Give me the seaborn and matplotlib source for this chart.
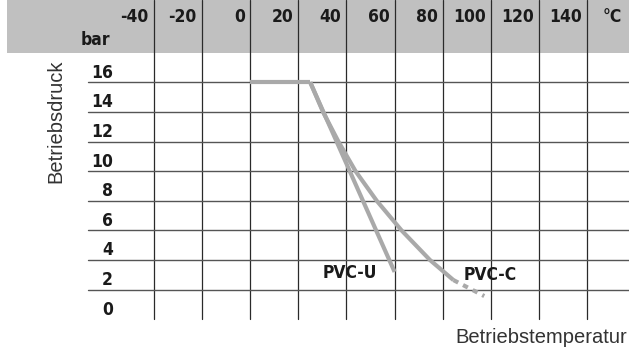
import numpy as np
import pandas as pd
import matplotlib
matplotlib.use("Agg")
import matplotlib.pyplot as plt
import seaborn as sns

# Daten
temp_ticks = [-40, -20, 0, 20, 40, 60, 80, 100, 120, 140]
druck_ticks = [0, 2, 4, 6, 8, 10, 12, 14, 16]

plateau_t = [0, 25]
plateau_p = [16, 16]

pvcu_t = [25, 60]
pvcu_p = [16, 3.2]

pvcc_t = [25, 30.3, 36.7, 43.8, 52.6, 62.9, 74.7, 84.4]
pvcc_p = [16, 14, 12, 10, 8, 6, 4, 2.65]

pvcc_ext_t = [84.4, 97.2]
pvcc_ext_p = [2.65, 1.57]

sns.set_theme(style="white")
plt.rcParams['font.family'] = ['DejaVu Sans']

# Pixel -> Daten Umrechnung (Tabelle-Layout)
def T(px):
    return (px - 250) / 2.41

def P(py):
    return (319.3 - py) / 14.81

fig = plt.figure(figsize=(6.29, 3.54), dpi=100)
ax = fig.add_axes([0, 0, 1, 1])

# Kopfzeile grau
ax.axhspan(P(53), P(0), xmin=7 / 629, xmax=1, color='#c0c0c0', lw=0, zorder=0)

# Gitter
for t in temp_ticks:
    ax.plot([t, t], [0, P(0)], color='#2a2a2a', lw=0.9, zorder=1)
for p in druck_ticks[1:]:
    ax.plot([T(88), T(629)], [p, p], color='#555555', lw=1.0, zorder=1)

# Kurven
grau = '#a9a9a9'
df_plateau = pd.DataFrame({'t': plateau_t, 'p': plateau_p})
df_u = pd.DataFrame({'t': pvcu_t, 'p': pvcu_p})
df_c = pd.DataFrame({'t': pvcc_t, 'p': pvcc_p})
df_ext = pd.DataFrame({'t': pvcc_ext_t, 'p': pvcc_ext_p})

kw = dict(x='t', y='p', color=grau, lw=3.0, sort=False, estimator=None, ax=ax, zorder=3)
sns.lineplot(data=df_plateau, solid_capstyle='butt', **kw)
sns.lineplot(data=df_u, solid_capstyle='butt', **kw)
sns.lineplot(data=df_c, solid_capstyle='butt', solid_joinstyle='round', **kw)
sns.lineplot(data=df_ext, linestyle=(0, (1.3, 1.3)), dash_capstyle='butt', **kw)
ax.set_xlim(T(0), T(629))
ax.set_ylim(P(354), P(0))
ax.axis('off')

# Beschriftungen
fs = 12.5
bold = dict(fontsize=fs, fontweight='bold', fontstretch='condensed', color='#1a1a1a')
for t in temp_ticks:
    ax.text(t - 2.1, P(17.5), str(t), ha='right', va='center', **bold)
ax.text(T(622), P(17.5), '°C', ha='right', va='center', **bold)
ax.text(T(110), P(40), 'bar', ha='right', va='center', **bold)
for p in druck_ticks:
    ax.text(T(113), p + 0.65, str(p), ha='right', va='center', **bold)

ax.text(T(377), P(272.5), 'PVC-U', ha='right', va='center', **bold)
ax.text(T(464), P(274.5), 'PVC-C', ha='left', va='center', **bold)

ax.text(T(627), P(337.5), 'Betriebstemperatur', ha='right', va='center',
        fontsize=14.5, color='#333333', family=['Liberation Sans', 'DejaVu Sans'])
ax.text(T(56), P(121), 'Betriebsdruck', ha='center', va='center', rotation=90,
        fontsize=14.5, color='#333333', family=['Liberation Sans', 'DejaVu Sans'])

fig.savefig('out.png', dpi=100)
